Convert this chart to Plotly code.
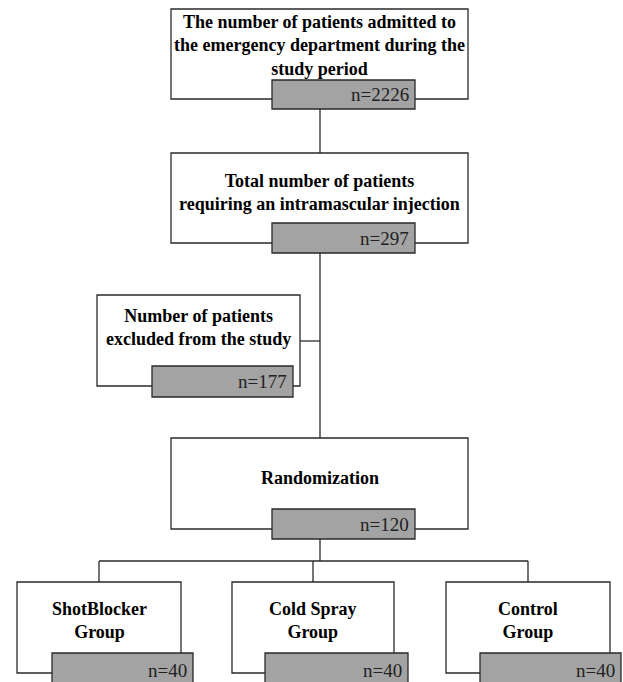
import plotly.graph_objects as go

# ---- data ----
stage_titles = [
    "The number of patients admitted to<br>the emergency department during the<br>study period",
    "Total number of patients<br>requiring an intramascular injection",
    "Number of patients<br>excluded from the study",
    "Randomization",
]
stage_counts = [2226, 297, 177, 120]
group_titles = ["ShotBlocker<br>Group", "Cold Spray<br>Group", "Control<br>Group"]
group_counts = [40, 40, 40]

# ---- layout geometry (pixels, y downward) ----
W, H = 623, 682
stage_boxes = [(171, 9, 468, 99), (171, 153, 468, 243), (97, 295, 300, 386), (171, 438, 468, 529)]
stage_gray = [(272, 80, 415, 109), (272, 223, 415, 253), (152, 366, 293, 397), (272, 509, 415, 539)]
stage_text_y = [45, 192, 327, 478]
group_boxes = [(17, 582, 181, 673), (232, 582, 394, 673), (446, 582, 610, 673)]
group_gray = [(52, 653, 193, 700), (265, 653, 408, 700), (480, 653, 621, 700)]
group_text_y = 620

LINE = "#2a2a2a"
GRAY = "#a3a3a3"
FONT = "Liberation Serif"

shapes = []
def seg(x0, y0, x1, y1):
    shapes.append(dict(type="line", xref="x", yref="y", x0=x0, y0=y0, x1=x1, y1=y1,
                       line=dict(color=LINE, width=1.3), layer="above"))

# connectors
seg(320, 109, 320, 153)
seg(320, 253, 320, 438)
seg(300, 341, 320, 341)
seg(320, 539, 320, 561)
seg(99, 561, 528, 561)
for gx in (99, 313, 528):
    seg(gx, 561, gx, 582)

annotations = []
def box(b, g, title, count, ty):
    shapes.append(dict(type="rect", xref="x", yref="y", x0=b[0], y0=b[1], x1=b[2], y1=b[3],
                       line=dict(color=LINE, width=1.3), fillcolor="white", layer="above"))
    shapes.append(dict(type="rect", xref="x", yref="y", x0=g[0], y0=g[1], x1=g[2], y1=g[3],
                       line=dict(color=LINE, width=1.3), fillcolor=GRAY, layer="above"))
    annotations.append(dict(x=(b[0] + b[2]) / 2, y=ty, xref="x", yref="y", text="<b>" + title + "</b>",
                            showarrow=False, xanchor="center", yanchor="middle",
                            font=dict(family=FONT, size=18, color="black")))
    gy = (g[1] + min(g[3], b[3] + 15)) / 2
    annotations.append(dict(x=g[2] - 4, y=gy, xref="x", yref="y", text=f"n={count}",
                            showarrow=False, xanchor="right", yanchor="middle",
                            font=dict(family=FONT, size=19, color="#222")))

for b, g, t, c, ty in zip(stage_boxes, stage_gray, stage_titles, stage_counts, stage_text_y):
    box(b, g, t, c, ty)
for b, g, t, c in zip(group_boxes, group_gray, group_titles, group_counts):
    box(b, g, t, c, group_text_y)

fig = go.Figure()
fig.add_trace(go.Scatter(x=[0, W], y=[0, H], mode="markers", marker=dict(opacity=0),
                         hoverinfo="skip", showlegend=False))
fig.update_layout(
    width=W, height=H, margin=dict(l=0, r=0, t=0, b=0),
    paper_bgcolor="white", plot_bgcolor="white",
    xaxis=dict(range=[0, W], visible=False, fixedrange=True),
    yaxis=dict(range=[H, 0], visible=False, fixedrange=True),
    shapes=shapes, annotations=annotations, showlegend=False,
)
fig.write_html("out.html", config={"displayModeBar": False},
               post_script="document.body.style.margin='0';document.body.style.overflow='hidden';")
